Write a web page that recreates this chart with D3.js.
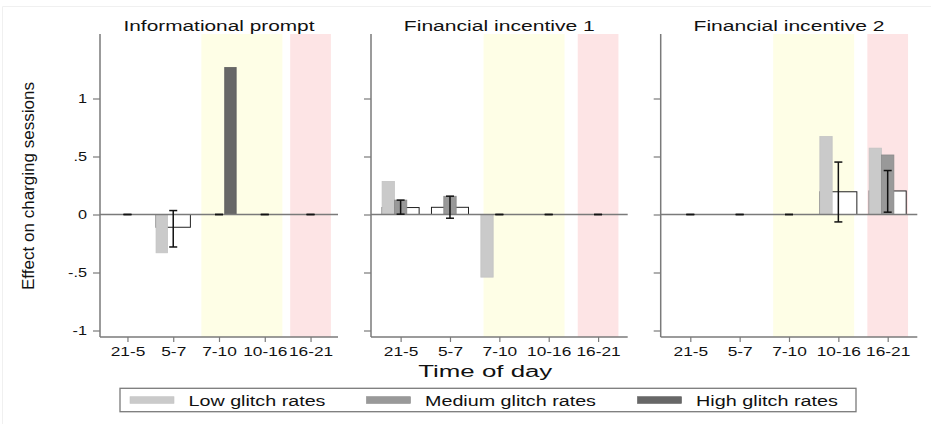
<!DOCTYPE html>
<html>
<head>
<meta charset="utf-8">
<script src="https://cdn.jsdelivr.net/npm/d3@7"></script>
<style>
  html, body { margin: 0; padding: 0; background: #fff; }
  svg { display: block; }
  text { font-family: "Liberation Sans", Arial, Helvetica, sans-serif; fill: #111; }
</style>
</head>
<body>
<svg id="chart" width="931" height="424"></svg>
<script>
// ---------------- DATA ----------------
const categories = ["21-5", "5-7", "7-10", "10-16", "16-21"];
const panelTitles = ["Informational prompt", "Financial incentive 1", "Financial incentive 2"];
const seriesNames = ["Low glitch rates", "Medium glitch rates", "High glitch rates"];

// values per panel, per time-of-day category
const lowGlitch    = [[0, -0.33, 0, 0, 0], [0.285, 0, -0.54, 0, 0], [0, 0, 0, 0.672, 0.572]];
const mediumGlitch = [[0, 0, 0, 0, 0],     [0.124, 0.157, 0, 0, 0], [0, 0, 0, 0, 0.513]];
const highGlitch   = [[0, 0, 1.267, 0, 0], [0, 0, 0, 0, 0],         [0, 0, 0, 0, 0]];
// overall (pooled) estimate with confidence interval
const overallEst   = [[0, -0.11, 0, 0, 0], [0.06, 0.062, 0, 0, 0],  [0, 0, 0, 0.196, 0.203]];
const ciLower      = [[0, -0.28, 0, 0, 0], [0.003, -0.032, 0, 0, 0], [0, 0, 0, -0.064, 0.02]];
const ciUpper      = [[0, 0.034, 0, 0, 0], [0.124, 0.158, 0, 0, 0], [0, 0, 0, 0.452, 0.379]];

const yTicks = [-1, -0.5, 0, 0.5, 1];
const yTickLabels = ["-1", "-.5", "0", ".5", "1"];
const shadeYellow = ["7-10", "10-16"];
const shadePink = ["16-21"];

// ---------------- LAYOUT ----------------
const svg = d3.select("#chart");
const W = 931, H = 424;
const plotTop = 34, plotBottom = 337;
const panels = [[100, 338], [371, 627.7], [660.7, 917.3]];
const colors = ["#cacaca", "#999999", "#676767"];
const strokeColors = ["#c4c4c4", "#8a8a8a", "#5e5e5e"];
const axisColor = "#7a7a7a";

// faint outer frame (top and left edges only)
svg.append("line").attr("x1", 2.5).attr("x2", W).attr("y1", 6.5).attr("y2", 6.5)
  .attr("stroke", "#f0f0f0").attr("stroke-width", 1);
svg.append("line").attr("x1", 2.5).attr("x2", 2.5).attr("y1", 6.5).attr("y2", H)
  .attr("stroke", "#f0f0f0").attr("stroke-width", 1);

const y = d3.scaleLinear().domain([-1.056, 1.556]).range([plotBottom, plotTop]);

function stretch(sel, k) {
  sel.each(function () {
    const w = this.getComputedTextLength();
    d3.select(this).attr("textLength", w * k).attr("lengthAdjust", "spacingAndGlyphs");
  });
}
function fitWidth(sel, w) {
  sel.attr("textLength", w).attr("lengthAdjust", "spacingAndGlyphs");
}

const seriesData = [lowGlitch, mediumGlitch, highGlitch];

panels.forEach((range, p) => {
  const x = d3.scalePoint().domain(categories).range(range).padding(0.6);
  const step = x.step();
  const g = svg.append("g");

  // background shading
  const yMid = (x(shadeYellow[0]) + x(shadeYellow[1])) / 2;
  g.append("rect").attr("x", yMid - 40.5).attr("width", 81)
    .attr("y", plotTop).attr("height", plotBottom - plotTop).attr("fill", "#fefee6");
  g.append("rect").attr("x", x(shadePink[0]) - 20.35).attr("width", 40.7)
    .attr("y", plotTop).attr("height", plotBottom - plotTop).attr("fill", "#fde4e5");

  // overall (white) bars behind
  const ov = categories.map((c, i) => ({ c, v: overallEst[p][i], lo: ciLower[p][i], hi: ciUpper[p][i] }));
  g.selectAll(".ov").data(ov.filter(d => d.v !== 0)).enter().append("rect")
    .attr("x", d => x(d.c) - 0.375 * step).attr("width", 0.75 * step)
    .attr("y", d => Math.min(y(d.v), y(0))).attr("height", d => Math.abs(y(d.v) - y(0)))
    .attr("fill", "#fff").attr("stroke", "#222").attr("stroke-width", 1);

  // glitch-rate bars
  seriesData.forEach((arr, s) => {
    const data = categories.map((c, i) => ({ c, v: arr[p][i] }));
    g.selectAll(".b" + s).data(data.filter(d => d.v !== 0)).enter().append("rect")
      .attr("x", d => x(d.c) + (s - 1.5) * 0.25 * step).attr("width", 0.25 * step)
      .attr("y", d => Math.min(y(d.v), y(0))).attr("height", d => Math.abs(y(d.v) - y(0)))
      .attr("fill", colors[s]).attr("stroke", strokeColors[s]).attr("stroke-width", 0.8);
  });

  // zero line
  g.append("line").attr("x1", range[0]).attr("x2", range[1])
    .attr("y1", y(0)).attr("y2", y(0)).attr("stroke", axisColor).attr("stroke-width", 1.5);

  // error bars
  const eb = g.selectAll(".eb").data(ov).enter().append("g");
  eb.append("line").attr("x1", d => x(d.c)).attr("x2", d => x(d.c))
    .attr("y1", d => y(d.lo)).attr("y2", d => y(d.hi)).attr("stroke", "#111").attr("stroke-width", 1.5);
  eb.append("line").attr("x1", d => x(d.c) - 4).attr("x2", d => x(d.c) + 4)
    .attr("y1", d => y(d.lo)).attr("y2", d => y(d.lo)).attr("stroke", "#111").attr("stroke-width", 1.5);
  eb.append("line").attr("x1", d => x(d.c) - 4).attr("x2", d => x(d.c) + 4)
    .attr("y1", d => y(d.hi)).attr("y2", d => y(d.hi)).attr("stroke", "#111").attr("stroke-width", 1.5);

  // x axis
  const xAxis = g.append("g").attr("transform", `translate(0,${plotBottom})`)
    .call(d3.axisBottom(x).tickSize(5).tickPadding(5));
  xAxis.select(".domain").attr("stroke", axisColor).attr("stroke-width", 1.5)
    .attr("d", `M${range[0]},0H${range[1]}`);
  xAxis.selectAll(".tick line").attr("stroke", axisColor).attr("stroke-width", 1.2);
  xAxis.selectAll(".tick text").attr("font-size", 13).attr("fill", "#111")
    .attr("font-family", "Liberation Sans, Arial, sans-serif").call(stretch, 1.33);

  // y axis
  const yAxis = g.append("g").attr("transform", `translate(${range[0]},0)`)
    .call(d3.axisLeft(y).tickValues(yTicks).tickSize(7).tickPadding(6)
      .tickFormat((d, i) => p === 0 ? yTickLabels[i] : ""));
  yAxis.select(".domain").attr("stroke", axisColor).attr("stroke-width", 1.5)
    .attr("d", `M0,${plotTop}V${plotBottom}`);
  yAxis.selectAll(".tick line").attr("stroke", axisColor).attr("stroke-width", 1.2);
  yAxis.selectAll(".tick text").attr("font-size", 13).attr("fill", "#111")
    .attr("font-family", "Liberation Sans, Arial, sans-serif");
  if (p === 0) yAxis.selectAll(".tick text").call(stretch, 1.25);

  // panel title
  svg.append("text").attr("x", (range[0] + range[1]) / 2).attr("y", 30.7)
    .attr("text-anchor", "middle").attr("font-size", 14).text(panelTitles[p]).call(fitWidth, 191);
});

// axis titles
svg.append("text").attr("x", 485.3).attr("y", 376.7).attr("text-anchor", "middle")
  .attr("font-size", 16).text("Time of day").call(fitWidth, 134);
svg.append("text").attr("transform", "translate(34,186) rotate(-90)").attr("text-anchor", "middle")
  .attr("font-size", 16).text("Effect on charging sessions").call(fitWidth, 208);

// legend
const lg = svg.append("g");
lg.append("rect").attr("x", 120).attr("y", 388.3).attr("width", 736).attr("height", 23.4)
  .attr("fill", "#fff").attr("stroke", axisColor).attr("stroke-width", 1.3);
const legendX = [130, 366.5, 637.5];
const legendTextW = [137, 171, 142];
seriesNames.forEach((name, i) => {
  lg.append("rect").attr("x", legendX[i]).attr("y", 396.7).attr("width", 44).attr("height", 6.7)
    .attr("fill", colors[i]).attr("stroke", strokeColors[i]).attr("stroke-width", 0.6);
  lg.append("text").attr("x", legendX[i] + 58.5).attr("y", 405.6).attr("font-size", 14)
    .text(name).call(fitWidth, legendTextW[i]);
});
</script>
</body>
</html>
